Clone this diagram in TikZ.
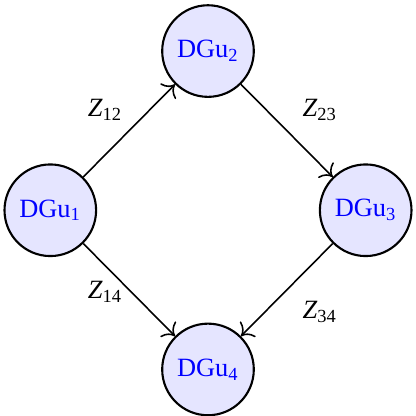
\documentclass[tikz,border=0pt]{standalone}
\usepackage{fontspec}
\setmainfont{Liberation Serif}
\usepackage{tikz}
\usetikzlibrary{positioning,arrows.meta}

\begin{document}
\begin{tikzpicture}[
    dgu/.style={circle, draw, thick, fill=blue!10, minimum size=1.22cm,
                inner sep=0pt, text=blue, font=\normalsize},
    arr/.style={-{To[scale=1.35]}, semithick},
    lbl/.style={font=\normalsize}
]
\useasboundingbox (-2.77,-2.74) rectangle (2.77,2.80);
\node[dgu] (dgu1) at (-2.1,0) {DGu\textsubscript{1}};
\node[dgu] (dgu2) at (0,2.12) {DGu\textsubscript{2}};
\node[dgu] (dgu3) at (2.1,0) {DGu\textsubscript{3}};
\node[dgu] (dgu4) at (0,-2.12) {DGu\textsubscript{4}};
\draw[arr] (dgu1) -- node[lbl, midway, shift={(-0.32,0.28)}] {\textit{Z}\textsubscript{12}} (dgu2);
\draw[arr] (dgu2) -- node[lbl, midway, shift={(0.44,0.28)}] {\textit{Z}\textsubscript{23}} (dgu3);
\draw[arr] (dgu1) -- node[lbl, midway, shift={(-0.32,-0.03)}] {\textit{Z}\textsubscript{14}} (dgu4);
\draw[arr] (dgu3) -- node[lbl, midway, shift={(0.44,-0.29)}] {\textit{Z}\textsubscript{34}} (dgu4);
\end{tikzpicture}
\end{document}
